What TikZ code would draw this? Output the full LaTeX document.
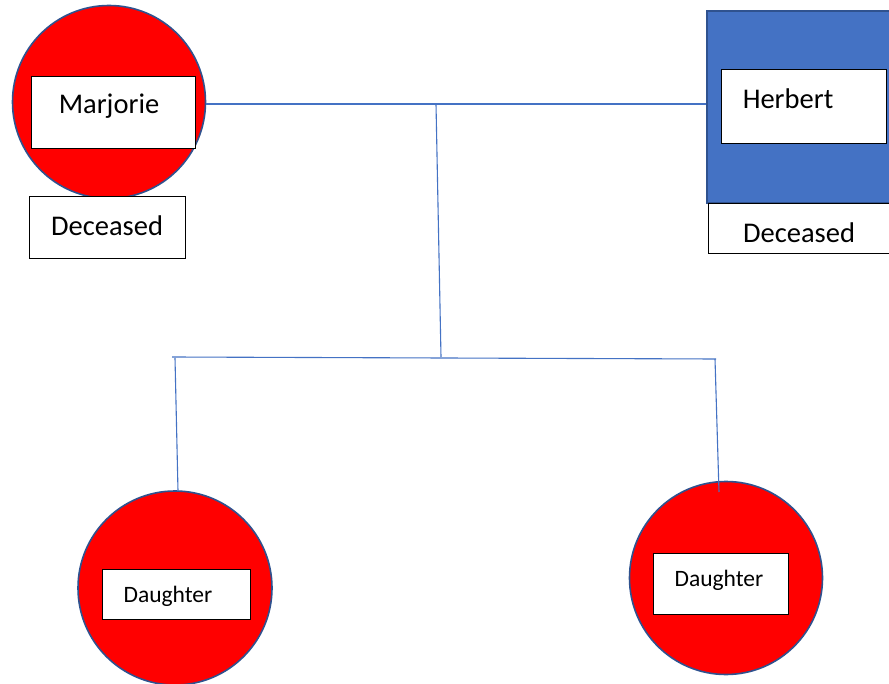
\documentclass[tikz,border=0pt]{standalone}
\usepackage{fontspec}
\setmainfont{Carlito}
\definecolor{pred}{HTML}{FF0000}
\definecolor{pblue}{HTML}{4472C4}
\definecolor{pdark}{HTML}{2F528F}
\begin{document}
\begin{tikzpicture}[x=1pt,y=-1pt,
  person/.style={circle,draw=pdark,line width=1.6pt,fill=pred,inner sep=0pt},
  whitebox/.style={rectangle,draw=black,line width=0.9pt,fill=white,inner sep=0pt},
  link/.style={draw=pblue,line width=1.1pt},
  big/.style={font=\fontsize{28.5}{34}\selectfont,inner sep=0pt},
  small/.style={font=\fontsize{23.5}{28}\selectfont,inner sep=0pt}]
\useasboundingbox (0,0) rectangle (889,684);
\clip (0,0) rectangle (889,684);
\fill[white] (0,0) rectangle (889,684);

% Marjorie
\node[person,minimum size=193pt] (mc) at (109,102) {};
\node[whitebox,minimum width=164pt,minimum height=72pt] (mb) at (113,112) {};
\node[big] (mt) at (109,106) {Marjorie};
\node[whitebox,minimum width=156pt,minimum height=62pt] (md) at (107,227) {};
\node[big] (mdt) at (107,226) {Deceased};

% Herbert
\node[rectangle,draw=pdark,line width=1.6pt,fill=pblue,minimum width=200pt,minimum height=192pt,anchor=north west,inner sep=0pt] (hs) at (706,10) {};
\node[whitebox,minimum width=200pt,minimum height=50pt,anchor=north west] (hd) at (708,203) {};
\node[big] (hdt) at (799,233) {Deceased};
\node[whitebox,minimum width=165pt,minimum height=74pt] (hb) at (803.5,106) {};
\node[big] (ht) at (788,99) {Herbert};

% Daughters
\node[person,minimum size=194pt] (d1) at (175,588) {};
\node[whitebox,minimum width=148pt,minimum height=50pt] (d1b) at (176,594) {};
\node[small] (d1t) at (168,596) {Daughter};
\node[person,minimum size=193pt] (d2) at (726,578) {};
\node[whitebox,minimum width=135pt,minimum height=61pt] (d2b) at (720.5,583.5) {};
\node[small] (d2t) at (719,580) {Daughter};

% connectors
\coordinate (j1) at (436,104);
\coordinate (j2) at (441,357);
\coordinate (bl) at (172,357);
\coordinate (br) at (716,359);
\coordinate (l1) at (175,358);
\coordinate (l2) at (178,491);
\coordinate (r1) at (715,359);
\coordinate (r2) at (719,492);
\draw[link] (mc.east |- j1) -- (hs.west |- j1);
\draw[link] (j1) -- (j2);
\draw[link] (bl) -- (br);
\draw[link] (l1) -- (l2);
\draw[link] (r1) -- (r2);
\end{tikzpicture}
\end{document}
